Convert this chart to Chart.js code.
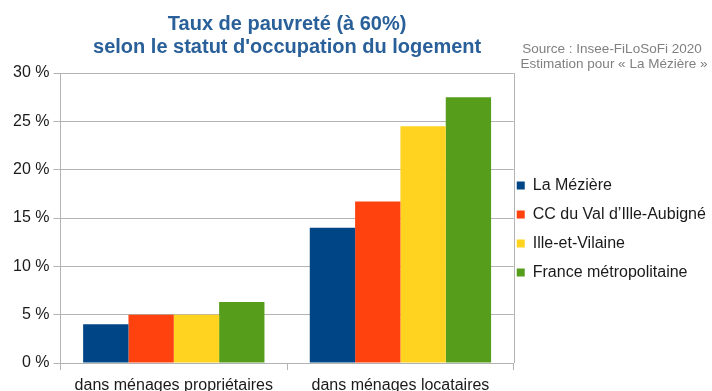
<!DOCTYPE html>
<html>
<head>
<meta charset="utf-8">
<title>Taux de pauvreté</title>
<script src="https://cdn.jsdelivr.net/npm/chart.js@4.4.0/dist/chart.umd.min.js"></script>
<style>
	html, body { margin: 0; padding: 0; background: #fff; overflow: hidden; }
	canvas { display: block; }
</style>
</head>
<body>
<canvas id="povertyChart" width="712" height="391"></canvas>
<script>
const categories = ["dans ménages propriétaires", "dans ménages locataires"];
const seriesNames = ["La Mézière", "CC du Val d’Ille-Aubigné", "Ille-et-Vilaine", "France métropolitaine"];
const laMeziere = [4.0, 14.0];
const ccValIlleAubigne = [5.0, 16.7];
const illeEtVilaine = [5.0, 24.5];
const franceMetro = [6.3, 27.5];
const yTicks = [0, 5, 10, 15, 20, 25, 30];
const titleLines = ["Taux de pauvreté (à 60%)", "selon le statut d'occupation du logement"];
const sourceLines = ["Source : Insee-FiLoSoFi 2020", "Estimation pour « La Mézière »"];

const colors = ["#004586", "#ff420e", "#ffd320", "#579d1c"];
const gridColor = "#b3b3b3";
const font = "'Liberation Sans', Arial, sans-serif";

// title over the plot area, source note in the top right corner, right frame line
const headerPlugin = {
	id: "header",
	afterLayout(chart) {
		// legend boxes sit just right of the frame
		const lg = chart.legend;
		lg.left = chart.chartArea.right + 3 - lg.options.labels.padding;
		lg.right = chart.width;
		lg.width = lg.right - lg.left;
		lg.top -= 3;
		lg.bottom -= 3;
	},
	beforeDatasetsDraw(chart) {
		const c = chart.ctx;
		const a = chart.chartArea;
		c.save();
		c.strokeStyle = gridColor;
		c.lineWidth = 1;
		c.beginPath();
		c.moveTo(Math.round(a.right) + 0.5, a.top);
		c.lineTo(Math.round(a.right) + 0.5, a.bottom);
		c.stroke();
		c.restore();
	},
	afterDraw(chart) {
		const c = chart.ctx;
		const a = chart.chartArea;
		c.save();
		c.textBaseline = "alphabetic";
		c.textAlign = "center";
		c.fillStyle = "#2a6099";
		c.font = "bold 20px " + font;
		const cx = (a.left + a.right) / 2;
		c.fillText(titleLines[0], cx, 30);
		c.fillText(titleLines[1], cx, 53);
		c.fillStyle = "#808080";
		c.font = "13.5px " + font;
		c.fillText(sourceLines[0], 612, 53);
		c.fillText(sourceLines[1], 614, 68);
		c.restore();
	}
};

const ctx = document.getElementById("povertyChart").getContext("2d");

const chartData = {
	labels: categories,
	datasets: [
		{ label: seriesNames[0], data: laMeziere, backgroundColor: colors[0] },
		{ label: seriesNames[1], data: ccValIlleAubigne, backgroundColor: colors[1] },
		{ label: seriesNames[2], data: illeEtVilaine, backgroundColor: colors[2] },
		{ label: seriesNames[3], data: franceMetro, backgroundColor: colors[3] },
	],
};

const povertyChart = new Chart(ctx, {
	type: "bar",
	data: chartData,
	plugins: [headerPlugin],
	options: {
		responsive: false,
		animation: false,
		datasets: {
			bar: { categoryPercentage: 0.8, barPercentage: 1.0, borderWidth: 0 }
		},
		layout: { padding: { top: 73, left: 9, right: 30, bottom: 0 } },
		scales: {
			x: {
				// category labels run off the bottom edge
				afterFit: axis => { axis.height = 28; },
				grid: { display: true, offset: true, drawOnChartArea: false, tickLength: 7, color: gridColor },
				border: { display: true, color: gridColor },
				ticks: { color: "#1a1a1a", font: { family: font, size: 16 }, padding: 6 },
			},
			y: {
				min: 0,
				max: 30,
				afterBuildTicks: axis => { axis.ticks = yTicks.map(v => ({ value: v })); },
				grid: { color: gridColor, tickLength: 7 },
				border: { display: true, color: gridColor },
				ticks: {
					color: "#1a1a1a",
					font: { family: font, size: 16 },
					padding: 4,
					callback: v => v + " %",
				},
			},
		},
		plugins: {
			title: { display: false },
			tooltip: { enabled: false },
			legend: {
				position: "right",
				labels: {
					boxWidth: 8,
					boxHeight: 8,
					padding: 13,
					color: "#1a1a1a",
					font: { family: font, size: 16 },
				},
			},
		},
	},
});
</script>
</body>
</html>
